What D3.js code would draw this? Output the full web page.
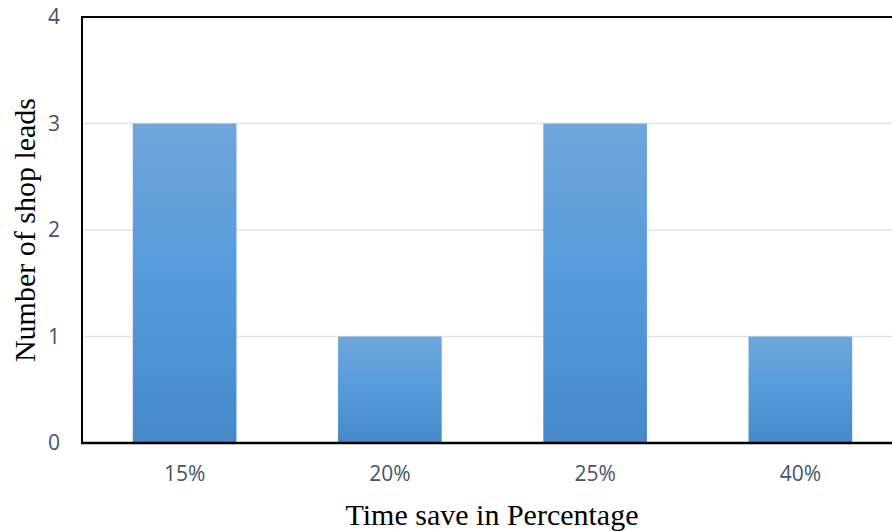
<!DOCTYPE html>
<html>
<head>
<meta charset="utf-8">
<script src="https://cdn.jsdelivr.net/npm/d3@7"></script>
<style>
  html, body { margin: 0; padding: 0; background: #fff; overflow: hidden; }
  svg { display: block; }
</style>
</head>
<body>
<svg id="chart" width="892" height="531"></svg>
<script>
// Share of time saved vs. number of shop leads reporting it
const categories = ["15%", "20%", "25%", "40%"];
const shopLeads = [3, 1, 3, 1];
const yTicks = [0, 1, 2, 3, 4];
const xTitle = "Time save in Percentage";
const yTitle = "Number of shop leads";

const svg = d3.select("#chart");
const W = 892, H = 531;
const m = { left: 82, top: 17, bottom: 443, right: 903 };

const x = d3.scaleBand().domain(categories).range([m.left, m.right]).paddingInner(0.495).paddingOuter(0.2475);
const y = d3.scaleLinear().domain([0, 4]).range([m.bottom, m.top]);

const defs = svg.append("defs");
const grad = defs.append("linearGradient").attr("id", "barFill")
  .attr("x1", 0).attr("y1", 0).attr("x2", 0).attr("y2", 1);
grad.append("stop").attr("offset", "0%").attr("stop-color", "#6fa6db");
grad.append("stop").attr("offset", "50%").attr("stop-color", "#559bdb");
grad.append("stop").attr("offset", "100%").attr("stop-color", "#4589c8");

// horizontal gridlines
svg.append("g").selectAll("line").data(yTicks.filter(d => d > 0 && d < 4)).join("line")
  .attr("x1", m.left).attr("x2", W)
  .attr("y1", d => y(d)).attr("y2", d => y(d))
  .attr("stroke", "#e1e4e9").attr("stroke-width", 1.5);

// bars
svg.append("g").selectAll("rect").data(categories).join("rect")
  .attr("x", d => x(d))
  .attr("width", x.bandwidth())
  .attr("y", (d, i) => y(shopLeads[i]))
  .attr("height", (d, i) => y(0) - y(shopLeads[i]))
  .attr("fill", "url(#barFill)");

// frame: left, top and baseline
svg.append("line").attr("x1", m.left).attr("x2", m.left).attr("y1", m.top).attr("y2", m.bottom + 1)
  .attr("stroke", "#000").attr("stroke-width", 2);
svg.append("line").attr("x1", m.left - 1).attr("x2", W).attr("y1", m.top).attr("y2", m.top)
  .attr("stroke", "#000").attr("stroke-width", 2);

const tickFont = "'Open Sans', sans-serif";
const tickColor = "#44546a";

// y axis labels
const yAxis = d3.axisLeft(y).tickValues(yTicks).tickSize(0).tickPadding(22).tickFormat(d3.format("d"));
const gy = svg.append("g").attr("transform", `translate(${m.left},0)`).call(yAxis);
gy.select(".domain").remove();
gy.selectAll("text").attr("font-family", tickFont).attr("font-size", 21).attr("fill", tickColor);

// x axis labels
const xAxis = d3.axisBottom(x).tickSize(0).tickPadding(23);
const gx = svg.append("g").attr("transform", `translate(0,${m.bottom})`).call(xAxis);
gx.select(".domain").attr("stroke", "#000").attr("stroke-width", 2.5)
  .attr("d", `M${m.left - 1},0H${W}`);
gx.selectAll("text").attr("font-family", tickFont).attr("font-size", 21).attr("fill", tickColor);

// axis titles
const titleFont = "'Liberation Serif', 'Times New Roman', serif";
svg.append("text").attr("x", 492).attr("y", 525).attr("text-anchor", "middle")
  .attr("font-family", titleFont).attr("font-size", 30).attr("fill", "#000")
  .text(xTitle);
svg.append("text").attr("transform", "translate(35,230) rotate(-90)").attr("text-anchor", "middle")
  .attr("font-family", titleFont).attr("font-size", 30).attr("fill", "#000")
  .text(yTitle);
</script>
</body>
</html>
